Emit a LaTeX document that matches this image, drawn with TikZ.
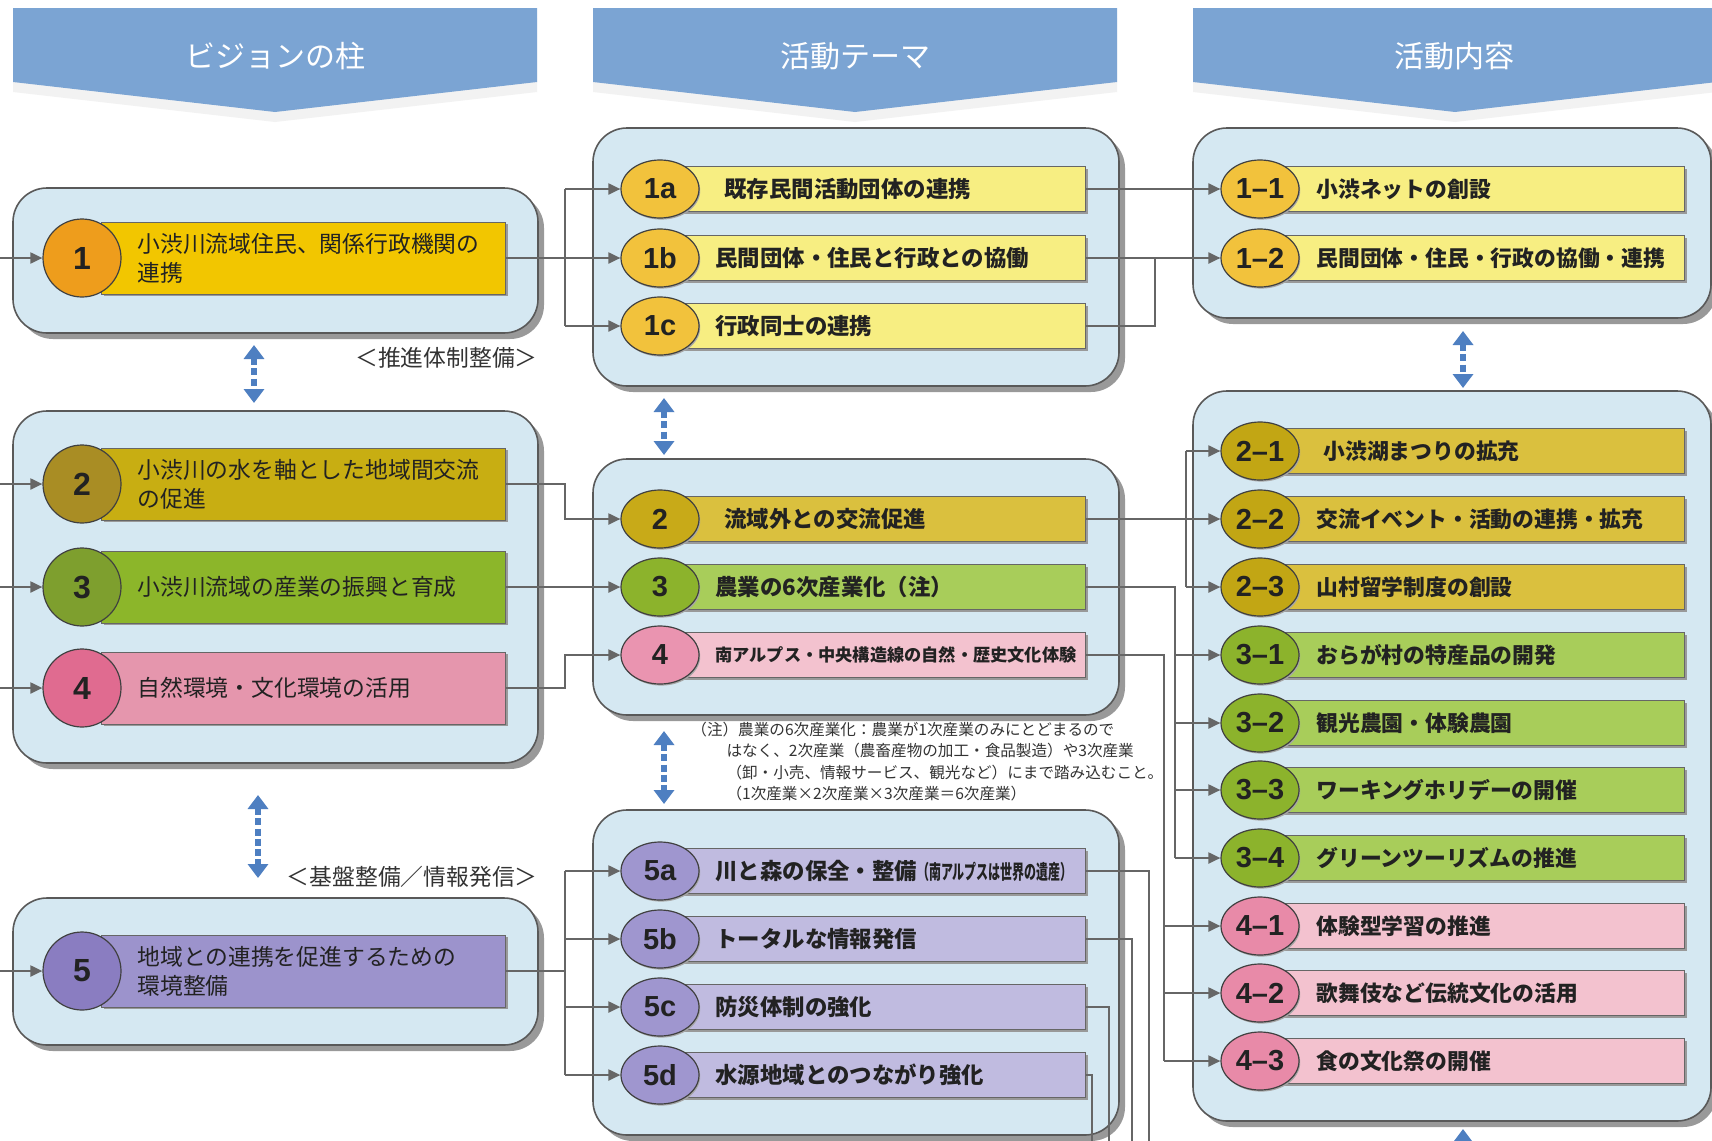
\documentclass[tikz,border=0pt]{standalone}
\usepackage{fontspec}
\usepackage{graphicx}
\setmainfont{Noto Sans CJK JP}
\newfontfamily\numfont{Liberation Sans}
\usetikzlibrary{shapes.geometric,shadows,arrows.meta,positioning}

\definecolor{panelbg}{HTML}{D5E8F2}
\definecolor{bannerblue}{HTML}{7BA4D3}
\definecolor{linkgray}{HTML}{666666}
\definecolor{dblue}{HTML}{4E7FC1}
\definecolor{ink}{HTML}{222222}
% pillars
\definecolor{vbarA}{HTML}{F2C600}\definecolor{vdotA}{HTML}{EE9D1C}
\definecolor{vbarB}{HTML}{C8AE12}\definecolor{vdotB}{HTML}{A98D24}
\definecolor{vbarC}{HTML}{8CB62A}\definecolor{vdotC}{HTML}{7E9F2E}
\definecolor{vbarD}{HTML}{E596AD}\definecolor{vdotD}{HTML}{E06B90}
\definecolor{vbarE}{HTML}{9C93CC}\definecolor{vdotE}{HTML}{8A7DC1}
% themes and activities
\definecolor{tbarA}{HTML}{F7EE82}\definecolor{tdotA}{HTML}{F2C23C}
\definecolor{tbarB}{HTML}{DAC03E}\definecolor{tdotB}{HTML}{C8AA18}
\definecolor{tbarC}{HTML}{A8CD5A}\definecolor{tdotC}{HTML}{8CB32C}
\definecolor{tbarD}{HTML}{F3C2CF}\definecolor{tdotD}{HTML}{EA94B0}
\definecolor{tbarE}{HTML}{C0BBE0}\definecolor{tdotE}{HTML}{9F96CF}
\definecolor{adotB}{HTML}{C2A614}\definecolor{adotD}{HTML}{E88AA8}

\newcommand\squeezed[1]{\scalebox{0.6}[1]{\fontsize{10}{10}\selectfont #1}}

\tikzset{
  panel/.style={draw=black!65, line width=0.8pt, fill=panelbg, rounded corners=17pt,
    drop shadow={shadow xshift=3pt,shadow yshift=-3pt,fill=black!40,opacity=1}},
  banner/.style={fill=bannerblue,
    drop shadow={shadow xshift=0pt,shadow yshift=-5pt,fill=black!5,opacity=1}},
  headtext/.style={text=white, font=\fontsize{15}{15}\selectfont},
  visionbar/.style={draw=black!60, line width=0.5pt, anchor=west, inner sep=0pt,
    minimum width=202pt, minimum height=36pt,
    drop shadow={shadow xshift=1pt,shadow yshift=-1pt,fill=black!40,opacity=1}},
  themebar/.style={visionbar, minimum width=212.5pt, minimum height=22.5pt},
  actbar/.style={visionbar, minimum width=212pt, minimum height=22.5pt},
  numdisk/.style={circle, draw=black!75, line width=0.6pt, minimum size=39pt, inner sep=0pt,
    text=ink, font=\numfont\bfseries\fontsize{16}{16}\selectfont},
  numoval/.style={ellipse, draw=black!75, line width=0.6pt, minimum width=39pt,
    minimum height=29pt, inner sep=0pt, text=ink,
    font=\numfont\bfseries\fontsize{14.5}{14.5}\selectfont,
    drop shadow={shadow xshift=0.6pt,shadow yshift=-0.8pt,fill=black!35,opacity=1}},
  visiontext/.style={anchor=west, align=left, inner sep=0pt, text=ink,
    font=\fontsize{11.4}{14.5}\selectfont},
  themetext/.style={anchor=west, inner sep=0pt, text=ink,
    font=\bfseries\fontsize{11.2}{12}\selectfont},
  acttext/.style={themetext, font=\bfseries\fontsize{10.9}{12}\selectfont},
  tagtext/.style={anchor=east, inner sep=0pt, text=black!80,
    font=\fontsize{11.4}{12}\selectfont},
  note/.style={anchor=north west, align=left, inner sep=0pt, text=black!80,
    font=\fontsize{7.8}{10.6}\selectfont},
  link/.style={draw=linkgray, line width=1pt},
  arr/.style={link, -{Triangle[length=6pt,width=5.5pt]}},
  dbl/.style={draw=dblue, line width=3.2pt, dash pattern=on 3.5pt off 1.6pt,
    {Triangle[length=7pt,width=10pt]}-{Triangle[length=7pt,width=10pt]}},
}

\begin{document}
\begin{tikzpicture}[x=0.5pt,y=-0.5pt]
  \useasboundingbox (0,0) rectangle (1712,1140);
  \clip (0,0) rectangle (1712,1140);
  \fill[white] (0,0) rectangle (1712,1140);

  % column banners
  \path[banner] (13,8) -- (537,8) -- (537,82) -- (275,112) -- (13,82) -- cycle;
  \path[banner] (593,8) -- (1117,8) -- (1117,82) -- (855,112) -- (593,82) -- cycle;
  \path[banner] (1193,8) -- (1717,8) -- (1717,82) -- (1455,112) -- (1193,82) -- cycle;
  \node[headtext] (h1) at (275,56) {ビジョンの柱};
  \node[headtext] (h2) at (855,56) {活動テーマ};
  \node[headtext] (h3) at (1454,56) {活動内容};

  % panels
  \path[panel] (13,188) rectangle (538,333);
  \path[panel] (13,411) rectangle (538,763);
  \path[panel] (13,898) rectangle (538,1045);
  \path[panel] (593,128) rectangle (1119,386);
  \path[panel] (593,459) rectangle (1119,715);
  \path[panel] (593,810) rectangle (1119,1135);
  \path[panel] (1193,128) rectangle (1711,318);
  \path[panel] (1193,391) rectangle (1711,1121);

  % pillars
  \foreach \n/\y/\bc/\cc/\txt in {
    1/258/vbarA/vdotA/{小渋川流域住民、関係行政機関の\\連携},
    2/484/vbarB/vdotB/{小渋川の水を軸とした地域間交流\\の促進},
    3/587/vbarC/vdotC/{小渋川流域の産業の振興と育成},
    4/688/vbarD/vdotD/{自然環境・文化環境の活用},
    5/971/vbarE/vdotE/{地域との連携を促進するための\\環境整備}}{
    \node[visionbar, fill=\bc] (bv\n) at (101,\y) {};
    \node[visiontext] (xv\n) at (137,\y) {\txt};
    \node[numdisk, fill=\cc] (ov\n) at (82,\y) {\n};
    \coordinate (in\n) at (0,\y);
    \draw[arr] (in\n) -- (ov\n);
  }

  % themes
  \foreach \n/\y/\bc/\cc/\txt in {
    1a/189/tbarA/tdotA/{\hspace{4.5pt}既存民間活動団体の連携},
    1b/258/tbarA/tdotA/{民間団体・住民と行政との協働},
    1c/326/tbarA/tdotA/{行政同士の連携},
    2/519/tbarB/tdotB/{\hspace{4.5pt}流域外との交流促進},
    3/587/tbarC/tdotC/{農業の6次産業化（注）},
    4/655/tbarD/tdotD/{\fontsize{8.6}{9}\selectfont 南アルプス・中央構造線の自然・歴史文化体験},
    5a/871/tbarE/tdotE/{川と森の保全・整備\squeezed{（南アルプスは世界の遺産）}},
    5b/939/tbarE/tdotE/{トータルな情報発信},
    5c/1007/tbarE/tdotE/{防災体制の強化},
    5d/1075/tbarE/tdotE/{水源地域とのつながり強化}}{
    \node[themebar, fill=\bc] (bt\n) at (660,\y) {};
    \node[themetext] (xt\n) at (715,\y) {\txt};
    \node[numoval, fill=\cc] (ot\n) at (660,\y) {\n};
  }

  % activities
  \foreach \n/\lab/\y/\bc/\cc/\txt in {
    11/1–1/189/tbarA/tdotA/{小渋ネットの創設},
    12/1–2/258/tbarA/tdotA/{民間団体・住民・行政の協働・連携},
    21/2–1/451/tbarB/adotB/{\hspace{3.5pt}小渋湖まつりの拡充},
    22/2–2/519/tbarB/adotB/{交流イベント・活動の連携・拡充},
    23/2–3/587/tbarB/adotB/{山村留学制度の創設},
    31/3–1/655/tbarC/tdotC/{おらが村の特産品の開発},
    32/3–2/723/tbarC/tdotC/{観光農園・体験農園},
    33/3–3/790/tbarC/tdotC/{ワーキングホリデーの開催},
    34/3–4/858/tbarC/tdotC/{グリーンツーリズムの推進},
    41/4–1/926/tbarD/adotD/{体験型学習の推進},
    42/4–2/993/tbarD/adotD/{歌舞伎など伝統文化の活用},
    43/4–3/1061/tbarD/adotD/{食の文化祭の開催}}{
    \node[actbar, fill=\bc] (ba\n) at (1260,\y) {};
    \node[acttext] (xa\n) at (1316,\y) {\txt};
    \node[numoval, fill=\cc] (oa\n) at (1260,\y) {\lab};
  }

  % pillars -> themes
  \coordinate (sv) at (565,0);
  \draw[link] (bv1.east) -- (bv1.east -| sv);
  \draw[link] (sv |- ot1a) -- (sv |- ot1c);
  \foreach \k in {1a,1b,1c} \draw[arr] (sv |- ot\k) -- (ot\k);
  \draw[arr] (bv2.east) -- (bv2.east -| sv) |- (ot2);
  \draw[arr] (bv3.east) -- (ot3);
  \draw[arr] (bv4.east) -- (bv4.east -| sv) |- (ot4);
  \draw[link] (bv5.east) -- (bv5.east -| sv);
  \draw[link] (sv |- ot5a) -- (sv |- ot5d);
  \foreach \k in {5a,5b,5c,5d} \draw[arr] (sv |- ot\k) -- (ot\k);

  % themes -> activities
  \draw[arr] (bt1a.east) -- (oa11);
  \draw[arr] (bt1b.east) -- (oa12);
  \coordinate (sa) at (1155,0);
  \draw[link] (bt1c.east) -| (sa |- bt1b.east);
  \draw[arr] (bt2.east) -- (oa22);
  \coordinate (sb) at (1186,0);
  \draw[link] (sb |- oa21) -- (sb |- oa23);
  \foreach \k in {21,23} \draw[arr] (sb |- oa\k) -- (oa\k);
  \coordinate (sc) at (1175,0);
  \draw[link] (bt3.east) -| (sc |- oa34);
  \foreach \k in {31,32,33,34} \draw[arr] (sc |- oa\k) -- (oa\k);
  \coordinate (sd) at (1164,0);
  \draw[link] (bt4.east) -| (sd |- oa43);
  \foreach \k in {41,42,43} \draw[arr] (sd |- oa\k) -- (oa\k);
  \foreach \k/\x in {5a/1149,5b/1132,5c/1109,5d/1092}{
    \coordinate (down\k) at (\x,1150);
    \draw[link] (bt\k.east) -| (down\k);
  }

  % links between panels
  \coordinate (dA1) at (254,345); \coordinate (dA2) at (254,403);
  \coordinate (dA3) at (258,795); \coordinate (dA4) at (258,878);
  \coordinate (dB1) at (664,398); \coordinate (dB2) at (664,455);
  \coordinate (dB3) at (664,731); \coordinate (dB4) at (664,804);
  \coordinate (dC1) at (1463,331); \coordinate (dC2) at (1463,388);
  \coordinate (dC3) at (1463,1129); \coordinate (dC4) at (1463,1210);
  \draw[dbl] (dA1) -- (dA2);
  \draw[dbl] (dA3) -- (dA4);
  \draw[dbl] (dB1) -- (dB2);
  \draw[dbl] (dB3) -- (dB4);
  \draw[dbl] (dC1) -- (dC2);
  \draw[dbl] (dC3) -- (dC4);

  % tags and note
  \node[tagtext] (tag1) at (538,358) {＜推進体制整備＞};
  \node[tagtext] (tag2) at (538,877) {＜基盤整備／情報発信＞};
  \node[note] (note) at (691,722) {（注）農業の6次産業化：農業が1次産業のみにとどまるので\\
    \hspace*{2.25em}はなく、2次産業（農畜産物の加工・食品製造）や3次産業\\
    \hspace*{2.25em}（卸・小売、情報サービス、観光など）にまで踏み込むこと。\\
    \hspace*{2.25em}（1次産業×2次産業×3次産業＝6次産業）};
\end{tikzpicture}
\end{document}
